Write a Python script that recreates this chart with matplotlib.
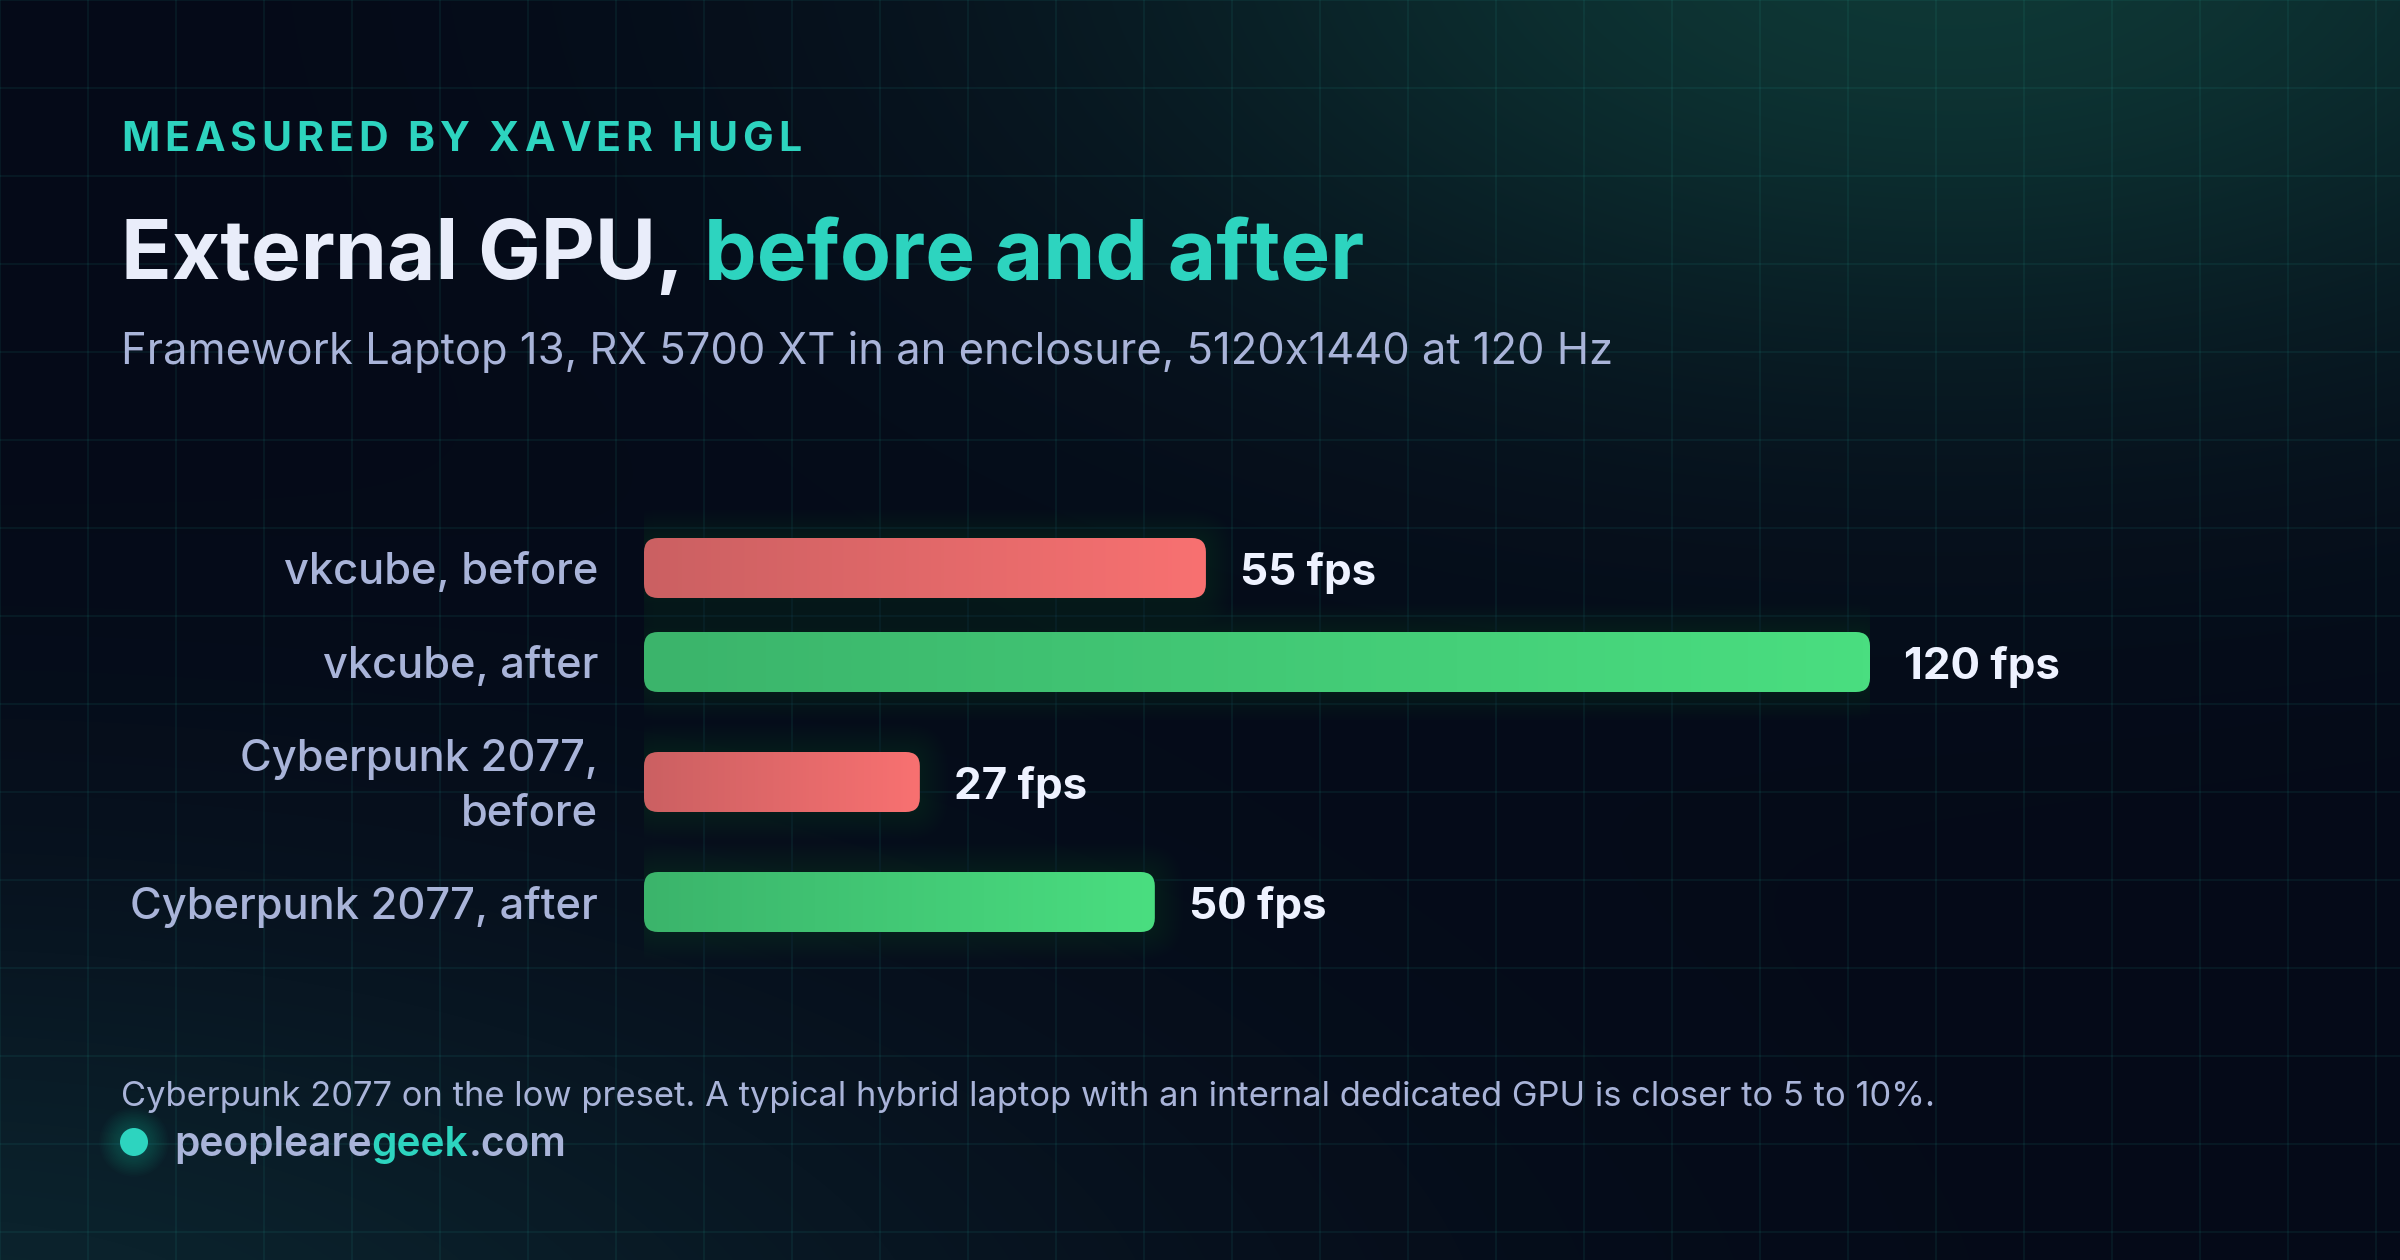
import numpy as np
import matplotlib
matplotlib.use("Agg")
import matplotlib.pyplot as plt
from matplotlib.patches import FancyBboxPatch, Circle
from matplotlib.colors import LinearSegmentedColormap, to_rgb
from matplotlib.font_manager import FontProperties

# ---------------- data ----------------
categories = ["vkcube, before", "vkcube, after", "Cyberpunk 2077,\nbefore", "Cyberpunk 2077, after"]
fps = [55, 120, 27, 50]
phase = ["before", "after", "before", "after"]
unit = "fps"

eyebrow = "MEASURED BY XAVER HUGL"
title_main = "External GPU, "
title_accent = "before and after"
subtitle = "Framework Laptop 13, RX 5700 XT in an enclosure, 5120x1440 at 120 Hz"
footnote = ("Cyberpunk 2077 on the low preset. A typical hybrid laptop with an internal "
            "dedicated GPU is closer to 5 to 10%.")
site_parts = ["peopleare", "geek", ".com"]

# ---------------- style ----------------
FONT = "Inter"
BG = "#050a18"
TEAL = "#2dd4bf"
TITLE_C = "#e9edfa"
SUB_C = "#a9b4d9"
VAL_C = "#eef2ff"
GRAD = {"before": ("#cb6062", "#f87171"), "after": ("#3bb46b", "#4ade80")}

W, H = 2400, 1260
DPI = 100
fig = plt.figure(figsize=(W / DPI, H / DPI), dpi=DPI)
fig.patch.set_facecolor(BG)

# ---------------- background ----------------
bg = fig.add_axes([0, 0, 1, 1])
yy, xx = np.mgrid[0:H:2, 0:W:2].astype(float)
base = np.array(to_rgb(BG))
img = np.ones(xx.shape + (3,)) * base


def glow(cx, cy, rx, ry, col, strength):
    w = strength * np.exp(-((xx - cx) / rx) ** 2 - ((yy - cy) / ry) ** 2)
    return w[..., None] * (np.array(to_rgb(col)) - base)


img += glow(1950, -60, 850, 430, "#10403b", 0.85)
img += glow(-100, 1380, 1150, 480, "#0e2e36", 0.75)
img = np.clip(img, 0, 1)
bg.imshow(img, extent=(0, W, H, 0), aspect="auto", zorder=0, interpolation="bilinear")
for gx in range(0, W + 1, 88):
    bg.axvline(gx, color=TEAL, alpha=0.085, lw=1.2, zorder=1)
for gy in range(0, H + 1, 88):
    bg.axhline(gy, color=TEAL, alpha=0.085, lw=1.2, zorder=1)
bg.set_xlim(0, W)
bg.set_ylim(H, 0)
bg.axis("off")

renderer = fig.canvas.get_renderer()


def fp(weight, size):
    return FontProperties(family=FONT, weight=weight, size=size)


def width_px(s, weight, size):
    w, _, _ = renderer.get_text_width_height_descent(s, fp(weight, size), ismath=False)
    return w


def adv_px(s, weight, size):
    return width_px("|" + s + "|", weight, size) - width_px("||", weight, size)


def fit_size(s, weight, target):
    return 40 * target / adv_px(s, weight, 40)


LEFT = 121

# eyebrow with letter spacing
eb_w, eb_size = "bold", 29.5
advs = [adv_px(c, eb_w, eb_size) for c in eyebrow]
spacing = (680 - sum(advs)) / (len(eyebrow) - 1)
xc = LEFT
for c, a in zip(eyebrow, advs):
    bg.text(xc, 151, c, color=TEAL, fontproperties=fp(eb_w, eb_size), ha="left", va="baseline", zorder=5)
    xc += a + spacing

# title
full_title = title_main + title_accent
t_size = fit_size(full_title, "bold", 1244)
bg.text(LEFT, 279, title_main, color=TITLE_C, fontproperties=fp("bold", t_size), ha="left", va="baseline", zorder=5)
acc_x = LEFT + adv_px(full_title, "bold", t_size) - adv_px(title_accent, "bold", t_size)
bg.text(acc_x, 279, title_accent, color=TEAL, fontproperties=fp("bold", t_size), ha="left", va="baseline", zorder=5)

# subtitle
s_size = fit_size(subtitle, "normal", 1489)
bg.text(LEFT, 364, subtitle, color=SUB_C, fontproperties=fp("normal", s_size), ha="left", va="baseline", zorder=5)

# ---------------- bars ----------------
x0_px, x1_px = 644, 1870
ax = fig.add_axes([x0_px / W, 0, (x1_px - x0_px) / W, 1])
ax.patch.set_alpha(0)
vmax = max(fps)
sx = (x1_px - x0_px) / vmax
row_y = [568, 662, 782, 902]
bar_h = 60
radius = 14

lab_size = fit_size("Cyberpunk 2077, after", "medium", 468)
val_size = fit_size("120 fps", "bold", 156)

for i, (cat, v, ph) in enumerate(zip(categories, fps, phase)):
    y = row_y[i]
    # soft glow
    for k in range(1, 15):
        P = k * 2.0
        g = FancyBboxPatch((0, y - bar_h / 2), v, bar_h,
                           boxstyle=f"round,pad={P / sx},rounding_size={(radius + P) / sx}",
                           mutation_aspect=sx, facecolor="#1e9e8c", edgecolor="none",
                           alpha=0.009, zorder=2)
        ax.add_patch(g)
    patch = FancyBboxPatch((0, y - bar_h / 2), v, bar_h,
                           boxstyle=f"round,pad=0,rounding_size={radius / sx}",
                           mutation_aspect=sx, facecolor="none", edgecolor="none", zorder=3)
    ax.add_patch(patch)
    cmap = LinearSegmentedColormap.from_list("g" + str(i), GRAD[ph])
    im = ax.imshow(np.linspace(0, 1, 256)[None, :], cmap=cmap,
                   extent=(0, v, y + bar_h / 2, y - bar_h / 2),
                   aspect="auto", interpolation="bilinear", zorder=3)
    im.set_clip_path(patch)
    ax.annotate(f"{v} {unit}", xy=(v, y), xytext=(34, 0), textcoords="offset pixels",
                ha="left", va="center_baseline", color=VAL_C,
                fontproperties=fp("bold", val_size), zorder=4)
    lines = cat.split("\n")
    n = len(lines)
    for j, line in enumerate(lines):
        ly = y + (j - (n - 1) / 2) * 55
        bg.text(598, ly, line, ha="right", va="center_baseline", color=SUB_C,
                fontproperties=fp("medium", lab_size), zorder=5)

ax.set_xlim(0, vmax)
ax.set_ylim(H, 0)
ax.axis("off")

# ---------------- footer ----------------
f_size = fit_size(footnote, "normal", 1812)
bg.text(LEFT, 1106, footnote, color=SUB_C, fontproperties=fp("normal", f_size), ha="left", va="baseline", zorder=5)

site_full = "".join(site_parts)
site_size = fit_size(site_full, "semibold", 392)
sx0 = 174
site_cols = [SUB_C, TEAL, SUB_C]
for idx, (part, col) in enumerate(zip(site_parts, site_cols)):
    rest = "".join(site_parts[idx:])
    px = sx0 + adv_px(site_full, "semibold", site_size) - adv_px(rest, "semibold", site_size)
    bg.text(px, 1156, part, color=col, fontproperties=fp("semibold", site_size), ha="left", va="baseline", zorder=5)

for k in range(1, 14):
    bg.add_patch(Circle((134, 1142), 14 + k * 1.6, facecolor=TEAL, edgecolor="none", alpha=0.018, zorder=4))
bg.add_patch(Circle((134, 1142), 14, facecolor=TEAL, edgecolor="none", zorder=5))

fig.savefig("out.png", dpi=DPI, facecolor=BG)
